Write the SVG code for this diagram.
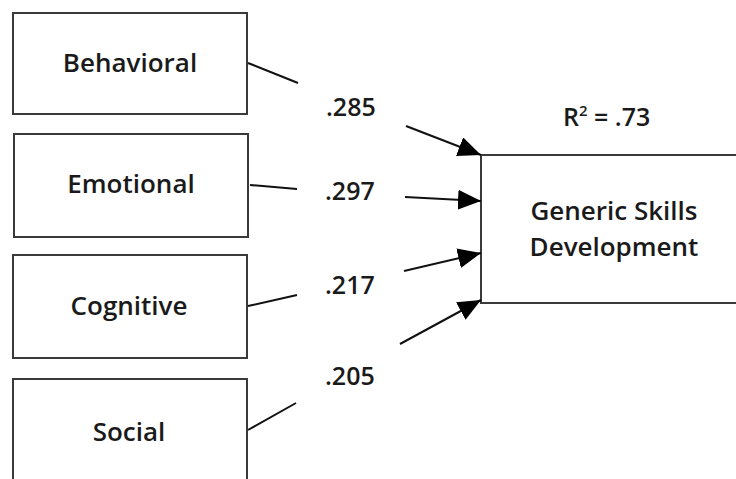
<svg xmlns="http://www.w3.org/2000/svg" width="736" height="479" viewBox="0 0 736 479">
<defs>
<style>
.box{fill:#fff;stroke:#3a3a3a;stroke-width:2}
.lbl{font-family:"Open Sans","Liberation Sans",sans-serif;font-weight:600;font-size:26px;fill:#1a1a1a;text-anchor:middle}
.num{font-family:"Open Sans","Liberation Sans",sans-serif;font-weight:600;font-size:25px;fill:#1a1a1a}
.ln{stroke:#111;stroke-width:2;fill:none}
</style>
<marker id="ah" markerUnits="userSpaceOnUse" markerWidth="24" markerHeight="20" refX="23" refY="10" orient="auto">
<path d="M0,0 L23,10 L0,20 z" fill="#000"/>
</marker>
</defs>
<rect width="736" height="479" fill="#fff"/>
<g id="behavioral"><rect class="box" x="13" y="13" width="234" height="101"/><text class="lbl" x="130" y="72">Behavioral</text></g>
<g id="emotional"><rect class="box" x="14" y="134" width="234" height="103"/><text class="lbl" x="131" y="193">Emotional</text></g>
<g id="cognitive"><rect class="box" x="13" y="255" width="234" height="103"/><text class="lbl" x="129" y="315">Cognitive</text></g>
<g id="social"><rect class="box" x="13" y="379" width="234" height="120"/><text class="lbl" x="129" y="441">Social</text></g>
<g id="generic"><rect class="box" x="481" y="155" width="260" height="148"/><text class="lbl" x="614" y="220">Generic Skills</text><text class="lbl" x="614" y="256">Development</text></g>
<g id="r2"><text class="num" x="563" y="126">R<tspan font-size="15" dy="-10">2</tspan><tspan dy="10"> = .73</tspan></text></g>
<g id="connectors">
<line class="ln" x1="248" y1="63" x2="298" y2="83"/>
<line class="ln" x1="406" y1="126" x2="481" y2="155" marker-end="url(#ah)"/>
<line class="ln" x1="250" y1="185" x2="297" y2="189"/>
<line class="ln" x1="405" y1="197" x2="481" y2="201" marker-end="url(#ah)"/>
<line class="ln" x1="248" y1="306" x2="297" y2="295"/>
<line class="ln" x1="404" y1="271" x2="481" y2="253" marker-end="url(#ah)"/>
<line class="ln" x1="248" y1="430" x2="296" y2="403"/>
<line class="ln" x1="400" y1="344" x2="481" y2="300" marker-end="url(#ah)"/>
<text class="num" x="326" y="116">.285</text>
<text class="num" x="325" y="200">.297</text>
<text class="num" x="325" y="294">.217</text>
<text class="num" x="325" y="385" font-weight="700">.205</text>
</g>
</svg>
